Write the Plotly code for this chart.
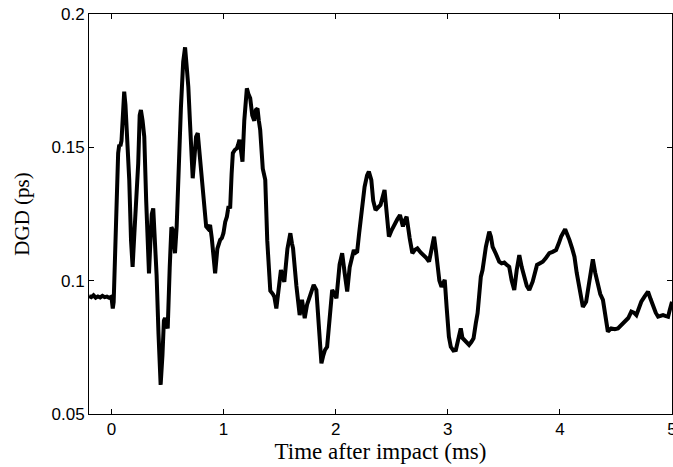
import plotly.graph_objects as go

time_ms = [
    -0.2, -0.18, -0.16, -0.14, -0.12, -0.10, -0.08, -0.06, -0.04, -0.02, 0.0,
    0.012, 0.02, 0.032, 0.04, 0.05, 0.06, 0.07, 0.08, 0.09, 0.105, 0.114, 0.125,
    0.135, 0.159, 0.175, 0.189, 0.205, 0.22, 0.239, 0.252, 0.263, 0.278, 0.293,
    0.31, 0.325, 0.335, 0.348, 0.36, 0.373, 0.388, 0.403, 0.42, 0.439, 0.455,
    0.468, 0.478, 0.49, 0.502, 0.52, 0.535, 0.548, 0.558, 0.567, 0.582, 0.60,
    0.62, 0.64, 0.657, 0.672, 0.686, 0.70, 0.712, 0.725, 0.74, 0.755, 0.77,
    0.785, 0.806, 0.825, 0.845, 0.862, 0.88, 0.895, 0.91, 0.925, 0.945, 0.97,
    0.985, 0.999, 1.015, 1.03, 1.045, 1.059, 1.072, 1.083, 1.10, 1.119, 1.13,
    1.142, 1.155, 1.169, 1.185, 1.2, 1.208, 1.222, 1.238, 1.256, 1.274, 1.288,
    1.303, 1.315, 1.327, 1.35, 1.372, 1.39, 1.405, 1.417, 1.44, 1.453, 1.471,
    1.49, 1.512, 1.53, 1.542, 1.57, 1.596, 1.61, 1.62, 1.65, 1.67, 1.679, 1.70,
    1.713, 1.724, 1.745, 1.769, 1.785, 1.804, 1.828, 1.85, 1.873, 1.89, 1.905,
    1.924, 1.945, 1.969, 1.99, 2.007, 2.035, 2.058, 2.08, 2.103, 2.125, 2.139,
    2.162, 2.178, 2.192, 2.21, 2.228, 2.258, 2.28, 2.296, 2.318, 2.335, 2.356,
    2.38, 2.40, 2.436, 2.455, 2.475, 2.50, 2.52, 2.55, 2.574, 2.60, 2.615,
    2.633, 2.66, 2.684, 2.705, 2.729, 2.76, 2.788, 2.81, 2.833, 2.855, 2.878,
    2.895, 2.908, 2.925, 2.944, 2.96, 2.973, 2.99, 3.01, 3.027, 3.05, 3.072,
    3.10, 3.116, 3.131, 3.146, 3.17, 3.19, 3.21, 3.23, 3.25, 3.266, 3.295,
    3.31, 3.34, 3.37, 3.385, 3.40, 3.43, 3.459, 3.48, 3.504, 3.525, 3.548,
    3.57, 3.593, 3.615, 3.638, 3.66, 3.683, 3.705, 3.727, 3.757, 3.796, 3.82,
    3.847, 3.875, 3.906, 3.935, 3.966, 3.99, 4.011, 4.047, 4.065, 4.085, 4.11,
    4.13, 4.15, 4.174, 4.19, 4.205, 4.234, 4.26, 4.294, 4.315, 4.339, 4.36,
    4.384, 4.41, 4.428, 4.458, 4.49, 4.518, 4.55, 4.578, 4.61, 4.637, 4.66,
    4.682, 4.705, 4.726, 4.755, 4.786, 4.81, 4.831, 4.855, 4.876, 4.9, 4.92,
    4.94, 4.965, 4.98, 5.0,
]

dgd_ps = [
    0.0942, 0.0938, 0.0945, 0.0936, 0.0941, 0.0937, 0.0943, 0.0938, 0.0940, 0.0936, 0.0940,
    0.0896, 0.0920, 0.1100, 0.1135, 0.1300, 0.1478, 0.1510, 0.1505, 0.1525, 0.1680, 0.1709, 0.1660,
    0.1577, 0.1378, 0.1150, 0.1052, 0.1180, 0.1300, 0.1440, 0.1620, 0.1640, 0.1600, 0.1540,
    0.1300, 0.1080, 0.1027, 0.1150, 0.1250, 0.1271, 0.1150, 0.1020, 0.0800, 0.0609, 0.0720,
    0.0850, 0.0860, 0.0830, 0.0821, 0.1050, 0.1200, 0.1190, 0.1115, 0.1103, 0.1203, 0.1450,
    0.1650, 0.1820, 0.1875, 0.1800, 0.1727, 0.1600, 0.1460, 0.1384, 0.1460, 0.1540, 0.1553,
    0.1480, 0.1390, 0.1270, 0.1203, 0.1195, 0.1209, 0.1160, 0.1080, 0.1028, 0.1120, 0.1153,
    0.1160, 0.1178, 0.1220, 0.1240, 0.1280, 0.1271, 0.1400, 0.1478, 0.1490, 0.1496, 0.1510,
    0.1528, 0.1490, 0.1446, 0.1600, 0.1690, 0.1721, 0.1700, 0.1684, 0.1620, 0.1600, 0.1640,
    0.1646, 0.1600, 0.1565, 0.1420, 0.1378, 0.1150, 0.1000, 0.0962, 0.0950, 0.0940, 0.0896,
    0.0980, 0.1040, 0.1010, 0.0996, 0.1120, 0.1178, 0.1140, 0.1121, 0.0980, 0.0890, 0.0871, 0.0928,
    0.0880, 0.0859, 0.0910, 0.0940, 0.0950, 0.0984, 0.0965, 0.0800, 0.0690, 0.0720, 0.0740,
    0.0752, 0.0860, 0.0965, 0.0950, 0.0934, 0.1060, 0.1103, 0.1030, 0.0959, 0.1050, 0.1078,
    0.1115, 0.1105, 0.1109, 0.1180, 0.1253, 0.1352, 0.1395, 0.1409, 0.1378, 0.1300, 0.1265,
    0.1275, 0.1284, 0.1340, 0.1240, 0.1165, 0.1190, 0.1209, 0.1230, 0.1246, 0.1203, 0.1225,
    0.1240, 0.1160, 0.1103, 0.1115, 0.1121, 0.1105, 0.1096, 0.1085, 0.1071, 0.1120, 0.1165,
    0.1110, 0.1065, 0.1000, 0.0977, 0.0995, 0.1003, 0.0900, 0.0790, 0.0752, 0.0738, 0.0740,
    0.0800, 0.0821, 0.0785, 0.0778, 0.0770, 0.0759, 0.0770, 0.0784, 0.0840, 0.0878, 0.1015,
    0.1040, 0.1127, 0.1184, 0.1165, 0.1127, 0.1100, 0.1071, 0.1065, 0.1068, 0.1060, 0.1052,
    0.1000, 0.0965, 0.1040, 0.1096, 0.1050, 0.1015, 0.0980, 0.0965, 0.0996, 0.1059, 0.1065,
    0.1071, 0.1085, 0.1103, 0.1108, 0.1115, 0.1140, 0.1165, 0.1193, 0.1175, 0.1153, 0.1120,
    0.1090, 0.1030, 0.0965, 0.0920, 0.0902, 0.0921, 0.1000, 0.1080, 0.1030, 0.0977, 0.0950,
    0.0928, 0.0860, 0.0809, 0.0821, 0.0818, 0.0821, 0.0835, 0.0846, 0.0860, 0.0884, 0.0880,
    0.0871, 0.0900, 0.0921, 0.0940, 0.0959, 0.0930, 0.0902, 0.0880, 0.0865, 0.0870, 0.0871,
    0.0868, 0.0865, 0.0890, 0.0921,
]

x_ticks = [0, 1, 2, 3, 4, 5]
x_tick_labels = ["0", "1", "2", "3", "4", "5"]
y_ticks = [0.05, 0.1, 0.15, 0.2]
y_tick_labels = ["0.05", "0.1", "0.15", "0.2"]

fig = go.Figure()
fig.add_trace(go.Scatter(
    x=time_ms, y=dgd_ps, mode="lines",
    line=dict(color="black", width=4),
    hoverinfo="skip", showlegend=False,
))

tick_font = dict(family="Liberation Sans, Arial, sans-serif", size=17, color="black")
xtitle_font = dict(family="Liberation Serif, Times New Roman, serif", size=23, color="black")
ytitle_font = dict(family="Liberation Serif, Times New Roman, serif", size=21, color="black")

fig.update_layout(
    width=673, height=467,
    margin=dict(l=89, r=1, t=14, b=53),
    paper_bgcolor="white", plot_bgcolor="white",
    xaxis=dict(
        range=[-0.2, 5], tickvals=x_ticks, ticktext=x_tick_labels,
        ticks="inside", ticklen=5, tickcolor="black", tickwidth=1,
        showline=True, linecolor="black", linewidth=1, mirror="ticks",
        showgrid=False, zeroline=False, tickfont=tick_font,
        ticklabeloverflow="allow", automargin=False,
        title=dict(text="Time after impact (ms)", font=xtitle_font, standoff=0),
    ),
    yaxis=dict(
        range=[0.05, 0.2], tickvals=y_ticks, ticktext=y_tick_labels,
        ticks="inside", ticklen=5, tickcolor="black", tickwidth=1,
        showline=True, linecolor="black", linewidth=1, mirror="ticks",
        showgrid=False, zeroline=False, tickfont=tick_font,
        automargin=False,
        title=dict(text="DGD (ps)", font=ytitle_font, standoff=16),
    ),
)

fig.write_html("out.html")
